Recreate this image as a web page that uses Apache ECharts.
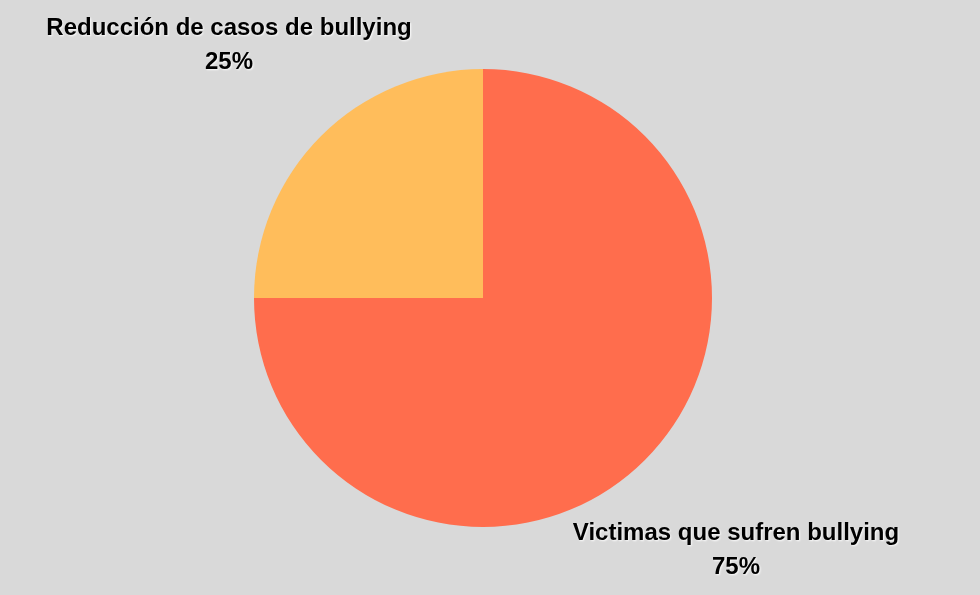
<!DOCTYPE html>
<html>
<head>
<meta charset="utf-8">
<script src="https://cdn.jsdelivr.net/npm/echarts@6/dist/echarts.min.js"></script>
<style>
  html, body { margin: 0; padding: 0; background: #d9d9d9; }
  #chart { width: 980px; height: 595px; }
</style>
</head>
<body>
<div id="chart"></div>
<script>
// datos del gráfico
var categorias = ['Victimas que sufren bullying', 'Reducción de casos de bullying'];
var valores = [75, 25];
var colores = ['#ff6d4d', '#ffbd5b'];

// posiciones de las etiquetas (centro del bloque de texto)
var posEtiquetas = [[736, 550], [229, 45]];

var myChart = echarts.init(document.getElementById('chart'));

var datos = [];
for (var i = 0; i < categorias.length; i++) {
  datos.push({ name: categorias[i], value: valores[i], itemStyle: { color: colores[i] } });
}

var option = {
  backgroundColor: '#d9d9d9',
  animation: false,
  series: [
    {
      type: 'pie',
      center: [483, 298],
      radius: 229,
      startAngle: 90,
      clockwise: true,
      data: datos,
      itemStyle: { borderWidth: 0 },
      label: {
        show: true,
        formatter: '{b}\n{d}%',
        fontFamily: 'Liberation Sans, Arial, sans-serif',
        fontWeight: 'bold',
        fontSize: 24,
        lineHeight: 34,
        color: '#000',
        align: 'center',
        overflow: 'none',
        width: 500,
        textShadowColor: 'rgba(255,255,255,0.9)',
        textShadowBlur: 2,
        textShadowOffsetX: 1,
        textShadowOffsetY: 1
      },
      labelLine: { show: false },
      labelLayout: function (params) {
        var p = posEtiquetas[params.dataIndex];
        return { x: p[0], y: p[1], align: 'center', verticalAlign: 'middle' };
      }
    }
  ]
};
myChart.setOption(option);
</script>
</body>
</html>
